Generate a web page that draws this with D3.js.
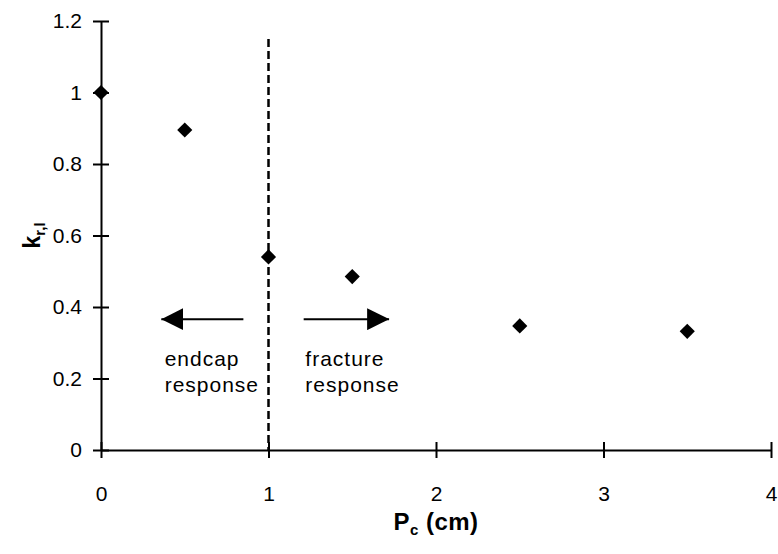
<!DOCTYPE html>
<html><head><meta charset="utf-8">
<script src="https://cdn.jsdelivr.net/npm/d3@7"></script>
<style>body{margin:0;background:#fff}svg{display:block}text{font-family:"Liberation Sans",Arial,sans-serif;fill:#000}</style>
</head><body><div id="c"></div>
<script>
const xValues = [0, 0.5, 1, 1.5, 2.5, 3.5];
const yValues = [1.0, 0.895, 0.54, 0.485, 0.347, 0.332];
const xTicks = [0, 1, 2, 3, 4];
const yTicks = [0, 0.2, 0.4, 0.6, 0.8, 1, 1.2];
const xLabelMain = "P", xLabelSub = "c", xLabelRest = " (cm)";
const yLabelMain = "k", yLabelSub = "r,l";
const divider = {x: 1, yTop: 1.15};
const arrows = [{from: 0.85, to: 0.36, y: 0.366}, {from: 1.21, to: 1.72, y: 0.366}];
const notes = [{x: 0.38, lines: ["endcap", "response"]}, {x: 1.22, lines: ["fracture", "response"]}];

const W = 778, H = 554;
const svg = d3.select("#c").append("svg").attr("width", W).attr("height", H);
const x = d3.scaleLinear().domain([0, 4]).range([101, 771]);
const y = d3.scaleLinear().domain([0, 1.2]).range([450, 21]);

const fmt = d => String(d);
const xa = svg.append("g").attr("transform", `translate(0,${y(0)})`)
  .call(d3.axisBottom(x).tickValues(xTicks).tickFormat(fmt).tickSizeInner(8).tickSizeOuter(0).tickPadding(27));
const ya = svg.append("g").attr("transform", `translate(${x(0)},0)`)
  .call(d3.axisLeft(y).tickValues(yTicks).tickFormat(fmt).tickSizeInner(8).tickSizeOuter(0).tickPadding(11));
[xa, ya].forEach(g => {
  g.select(".domain").attr("stroke", "#000").attr("stroke-width", 2);
  g.selectAll(".tick line").attr("stroke", "#000").attr("stroke-width", 2);
  g.selectAll(".tick text").attr("font-size", 21).attr("fill", "#000")
    .attr("font-family", '"Liberation Sans",Arial,sans-serif');
});
// crossing ticks
xa.selectAll(".tick line").attr("y1", -8).attr("y2", 8);
ya.selectAll(".tick line").attr("x1", -8).attr("x2", 8);
xa.selectAll(".tick text").attr("y", 36).attr("dy", "0.71em");

// divider
svg.append("line").attr("x1", x(divider.x)).attr("x2", x(divider.x))
  .attr("y1", y(divider.yTop)).attr("y2", y(0))
  .attr("stroke", "#000").attr("stroke-width", 2.5).attr("stroke-dasharray", "8,4");

// arrows
svg.append("defs").append("marker").attr("id", "ah").attr("viewBox", "0 0 10 10")
  .attr("refX", 10).attr("refY", 5).attr("markerWidth", 22).attr("markerHeight", 22)
  .attr("markerUnits", "userSpaceOnUse").attr("orient", "auto")
  .append("path").attr("d", "M0,0L10,5L0,10Z").attr("fill", "#000");
arrows.forEach(a => {
  svg.append("line").attr("x1", x(a.from)).attr("x2", x(a.to))
    .attr("y1", y(a.y)).attr("y2", y(a.y))
    .attr("stroke", "#000").attr("stroke-width", 2).attr("marker-end", "url(#ah)");
});

// notes
notes.forEach(n => {
  n.lines.forEach((t, i) => {
    svg.append("text").attr("x", x(n.x)).attr("y", 366 + i * 26)
      .attr("font-size", 21).attr("letter-spacing", 1).text(t);
  });
});

// points
const sym = d3.symbol().type(d3.symbolSquare).size(115);
svg.append("g").selectAll("path").data(xValues.map((v, i) => [v, yValues[i]])).join("path")
  .attr("d", sym).attr("fill", "#000")
  .attr("transform", d => `translate(${x(d[0])},${y(d[1])}) rotate(45)`);

// axis labels
const xl = svg.append("text").attr("x", x(2)).attr("y", 530).attr("text-anchor", "middle")
  .attr("font-size", 24).attr("font-weight", "bold").attr("letter-spacing", 0.5);
xl.append("tspan").text(xLabelMain);
xl.append("tspan").attr("font-size", 15).attr("dy", 5).text(xLabelSub);
xl.append("tspan").attr("dy", -5).text(xLabelRest);

const yl = svg.append("text").attr("transform", `translate(40,${y(0.6)}) rotate(-90)`)
  .attr("text-anchor", "middle").attr("font-size", 23).attr("font-weight", "bold");
yl.append("tspan").text(yLabelMain);
yl.append("tspan").attr("font-size", 15).attr("dy", 5).text(yLabelSub);
</script></body></html>
